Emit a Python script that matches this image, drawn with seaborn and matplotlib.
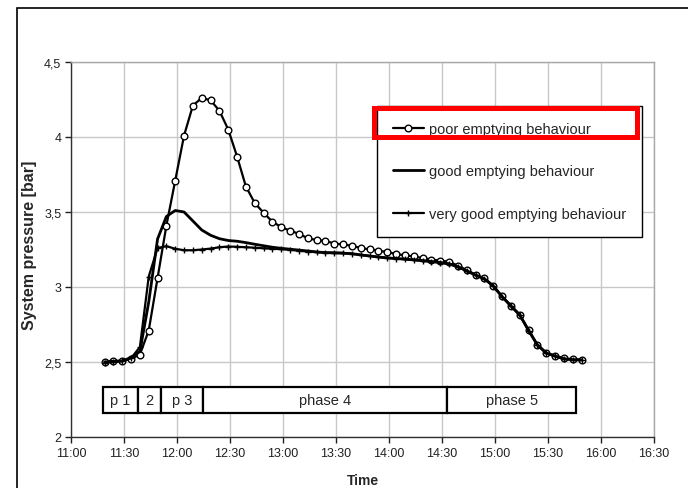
import pandas as pd
import matplotlib
matplotlib.use("Agg")
import matplotlib.pyplot as plt
from matplotlib.patches import Rectangle
import seaborn as sns

clock_times = [
    "11:19", "11:24", "11:29", "11:34", "11:39", "11:44", "11:49", "11:54", "11:59",
    "12:04", "12:09", "12:14", "12:19", "12:24", "12:29", "12:34", "12:39", "12:44", "12:49", "12:54", "12:59",
    "13:04", "13:09", "13:14", "13:19", "13:24", "13:29", "13:34", "13:39", "13:44", "13:49", "13:54", "13:59",
    "14:04", "14:09", "14:14", "14:19", "14:24", "14:29", "14:34", "14:39", "14:44", "14:49", "14:54", "14:59",
    "15:04", "15:09", "15:14", "15:19", "15:24", "15:29", "15:34", "15:39", "15:44", "15:49",
]
poor = [
    2.500, 2.507, 2.507, 2.520, 2.550, 2.710, 3.060, 3.410, 3.710,
    4.010, 4.210, 4.260, 4.245, 4.175, 4.050, 3.870, 3.670, 3.560, 3.495, 3.435, 3.400,
    3.375, 3.355, 3.325, 3.313, 3.307, 3.290, 3.284, 3.275, 3.260, 3.251, 3.242, 3.233,
    3.220, 3.211, 3.204, 3.193, 3.183, 3.176, 3.169, 3.142, 3.113, 3.082, 3.058, 3.009,
    2.938, 2.876, 2.816, 2.713, 2.616, 2.562, 2.542, 2.524, 2.518, 2.516,
]
good = [
    2.500, 2.505, 2.507, 2.530, 2.570, 2.900, 3.320, 3.470, 3.510,
    3.500, 3.440, 3.380, 3.345, 3.322, 3.310, 3.305, 3.296, 3.285, 3.275, 3.265, 3.258,
    3.252, 3.246, 3.240, 3.234, 3.229, 3.227, 3.225, 3.222, 3.214, 3.207, 3.200, 3.194,
    3.190, 3.186, 3.181, 3.176, 3.170, 3.164, 3.155, 3.136, 3.108, 3.080, 3.055, 3.007,
    2.936, 2.874, 2.814, 2.711, 2.614, 2.560, 2.540, 2.522, 2.516, 2.514,
]
very_good = [
    2.495, 2.500, 2.505, 2.525, 2.600, 3.070, 3.260, 3.272, 3.255,
    3.245, 3.245, 3.250, 3.256, 3.265, 3.270, 3.268, 3.265, 3.262, 3.258, 3.255, 3.252,
    3.248, 3.242, 3.236, 3.232, 3.230, 3.229, 3.228, 3.222, 3.214, 3.207, 3.200, 3.194,
    3.189, 3.185, 3.180, 3.175, 3.169, 3.162, 3.152, 3.134, 3.106, 3.078, 3.053, 3.005,
    2.934, 2.872, 2.812, 2.709, 2.612, 2.558, 2.538, 2.520, 2.514, 2.512,
]
series_names = ["poor emptying behaviour", "good emptying behaviour", "very good emptying behaviour"]

phase_names = ["p 1", "2", "p 3", "phase 4", "phase 5"]
phase_starts = ["11:18", "11:38", "11:51", "12:15", "14:33"]
phase_ends = ["11:38", "11:51", "12:15", "14:33", "15:46"]

x_tick_labels = ["11:00", "11:30", "12:00", "12:30", "13:00", "13:30",
                 "14:00", "14:30", "15:00", "15:30", "16:00", "16:30"]
y_ticks = [2, 2.5, 3, 3.5, 4, 4.5]
y_tick_labels = ["2", "2,5", "3", "3,5", "4", "4,5"]


def to_min(s):
    # minutes after 11:00
    h, m = s.split(":")
    return (int(h) - 11) * 60 + int(m)


df = pd.DataFrame({"t": [to_min(s) for s in clock_times],
                   series_names[0]: poor,
                   series_names[1]: good,
                   series_names[2]: very_good})

sns.set_style("white")
plt.rcParams["font.family"] = ["Liberation Sans", "DejaVu Sans"]

W, H = 688, 489
fig = plt.figure(figsize=(W / 100, H / 100), dpi=100)
ax = fig.add_axes([71 / W, 1 - 438 / H, (654 - 71) / W, (438 - 63) / H])

sns.lineplot(data=df, x="t", y=series_names[0], ax=ax, color="black", lw=1.6,
             marker="o", markersize=4.8, markerfacecolor="white",
             markeredgecolor="black", markeredgewidth=1.0, label=series_names[0])
sns.lineplot(data=df, x="t", y=series_names[1], ax=ax, color="black", lw=2.0,
             label=series_names[1])
sns.lineplot(data=df, x="t", y=series_names[2], ax=ax, color="black", lw=1.6,
             marker="+", markersize=5, markeredgewidth=1.0,
             markeredgecolor="black", label=series_names[2])

# phase boxes
for name, s, e in zip(phase_names, phase_starts, phase_ends):
    x0, x1 = to_min(s), to_min(e)
    ax.add_patch(Rectangle((x0, 2.16), x1 - x0, 0.173, facecolor="white",
                           edgecolor="black", lw=1.6, zorder=3))
    ax.text((x0 + x1) / 2, 2.2465, name, ha="center", va="center",
            fontsize=10.5, zorder=4)

ax.set_xlim(0, 330)
ax.set_ylim(2, 4.5)
ax.set_xticks([to_min(s) for s in x_tick_labels])
ax.set_xticklabels(x_tick_labels)
ax.set_yticks(y_ticks)
ax.set_yticklabels(y_tick_labels)
ax.grid(True, color="#c8c8c8", lw=1.0)
ax.set_axisbelow(True)
ax.tick_params(direction="out", length=4, width=1, colors="#202020",
               labelsize=9, pad=3, bottom=True, left=True)

for side in ["left", "bottom"]:
    ax.spines[side].set_color("#303030")
    ax.spines[side].set_linewidth(1.0)
for side in ["top", "right"]:
    ax.spines[side].set_color("#a8a8a8")
    ax.spines[side].set_linewidth(1.0)

ax.set_xlabel("Time", fontsize=10, fontweight="bold")
ax.set_ylabel("System pressure [bar]", fontsize=11.5, fontweight="bold")
ax.xaxis.set_label_coords(0.5, -0.097)
ax.yaxis.set_label_coords(-0.058, 0.515)

leg = ax.legend(loc="upper right", bbox_to_anchor=(642 / W, 1 - 107 / H),
                bbox_transform=fig.transFigure, frameon=True, fancybox=False,
                edgecolor="black", framealpha=1, fontsize=10.5,
                handlelength=2.1, handletextpad=0.35, labelspacing=1.95,
                borderpad=1.1, borderaxespad=0)
leg.get_frame().set_linewidth(1.0)
leg.set_zorder(10)

# red highlight round the first legend entry
fig.add_artist(Rectangle((373.5 / W, 1 - 138 / H), (636.7 - 373.5) / W, 29 / H,
                         transform=fig.transFigure, fill=False,
                         edgecolor="#ff0000", lw=3.6, zorder=20))

# outer frame of the figure
fig.add_artist(Rectangle((16.5 / W, -0.1), 1.2, 1.1 - 9 / H,
                         transform=fig.transFigure, fill=False,
                         edgecolor="black", lw=1.2, zorder=0))

fig.savefig("out.png", dpi=100)
